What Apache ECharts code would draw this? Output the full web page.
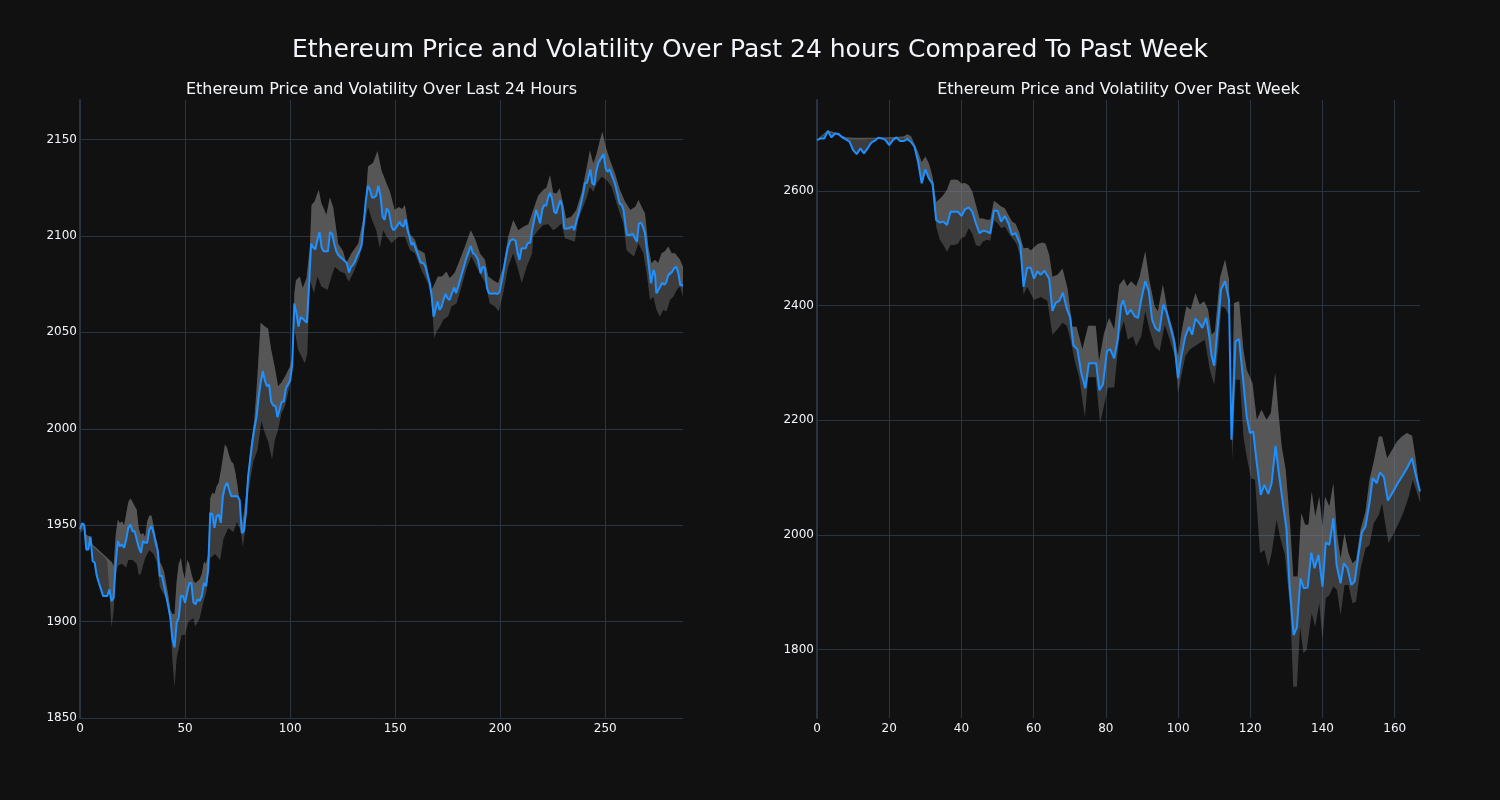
<!DOCTYPE html>
<html>
<head>
<meta charset="utf-8">
<script src="https://cdn.jsdelivr.net/npm/echarts@6/dist/echarts.min.js"></script>
<style>
html,body{margin:0;padding:0;background:#111111;}
#chart{width:1500px;height:800px;}
</style>
</head>
<body>
<div id="chart"></div>
<script>
// ---------- Data (x = index, y = ETH price in USD) ----------
const mainTitle = 'Ethereum Price and Volatility Over Past 24 hours Compared To Past Week';
const dayTitle = 'Ethereum Price and Volatility Over Last 24 Hours';
const weekTitle = 'Ethereum Price and Volatility Over Past Week';

// Last 24 hours (5-minute steps)
const dayPrice = [[0,1948],[1,1951],[2,1950],[3,1937.4],[4,1937.4],[5,1944],[6,1931.4],[7,1930.5],[8,1923.6],[9,1920],[10,1916.7],[11,1913.3],[12,1913.3],[13,1913.3],[14,1916.7],[15,1910.7],[16,1912.4],[17,1930.5],[18,1941.7],[19,1939],[20,1940],[21,1938.3],[22,1942.6],[23,1948.6],[24,1950.3],[25,1946.9],[26,1946.9],[27,1942.6],[28,1938.3],[29,1935.7],[30,1941.7],[31,1940.9],[32,1940.9],[33,1947.8],[34,1949.5],[35,1946],[36,1940.9],[37,1936.6],[38,1923.6],[39,1923.6],[40,1918.4],[41,1913.3],[42,1908.1],[43,1902],[44,1890.9],[45,1886.6],[46,1899.5],[47,1902],[48,1913.3],[49,1913.3],[50,1909.8],[51,1915],[52,1920],[53,1920],[54,1909.8],[55,1909],[56,1911.5],[57,1910.7],[58,1913.3],[59,1920],[60,1918.4],[61,1927],[62,1956.4],[63,1955.5],[64,1948.6],[65,1954.6],[66,1955.5],[67,1951.2],[68,1965],[69,1970],[70,1972],[71,1968.4],[72,1965],[73,1965],[74,1965],[75,1965],[76,1963],[77,1946],[78,1947],[79,1957],[80,1975],[81,1984],[82,1993],[83,2000],[84,2006],[85,2016],[86,2024],[87,2030],[88,2025],[89,2022],[90,2023],[91,2014],[92,2012],[93,2012],[94,2006],[95,2010],[96,2014],[97,2014],[98,2021],[99,2023],[100,2025],[101,2033],[102,2065],[103,2060],[104,2053],[105,2058],[106,2057],[107,2056],[108,2055],[109,2074],[110,2096],[111,2094],[112,2093],[113,2098],[114,2102],[115,2094],[116,2092],[117,2092],[118,2092],[119,2102],[120,2101],[121,2096],[122,2092],[123,2090],[124,2089],[125,2088],[126,2087],[127,2086],[128,2081],[129,2084],[130,2085],[131,2087],[132,2090],[133,2092],[134,2095],[135,2106],[136,2118],[137,2126],[138,2124],[139,2120],[140,2120],[141,2121],[142,2126],[143,2121],[144,2110],[145,2108.3],[146,2114.3],[147,2112.6],[148.3,2104.8],[149.2,2103],[150.2,2104],[151.1,2105],[152.1,2107.3],[153,2105.6],[154,2104.8],[154.9,2108.6],[155.9,2103],[156.8,2099.6],[157.8,2095.3],[158.7,2096.5],[159.7,2093.6],[160.9,2090.1],[162.2,2086.2],[163.5,2085.8],[164.4,2084.1],[165.4,2079.8],[166.5,2075.5],[167.3,2069.5],[168.3,2058.2],[169.2,2058.2],[170.2,2066],[171.1,2061.6],[172.1,2063.3],[173,2066.8],[174,2070],[174.9,2067.7],[175.9,2066.8],[177.1,2070.6],[178.1,2073.2],[179,2070.3],[180,2073.8],[181.6,2079.8],[183.2,2085.8],[184.1,2089.3],[185,2089],[186,2094.8],[187,2091],[188.2,2090.1],[189.4,2087.6],[190.7,2080.6],[191.7,2084.1],[192.7,2083.2],[193.7,2072.9],[194.6,2070.3],[195.9,2070],[197.5,2070.3],[198.7,2069.8],[199.7,2071],[201,2078],[202.2,2085.8],[203.5,2093.6],[204.8,2097.6],[206,2098.3],[207.3,2097.6],[208.3,2091],[209.2,2087.6],[210.2,2093.6],[211.1,2094.5],[212.1,2093.6],[213,2096.2],[214.3,2096.5],[215.2,2103],[216.2,2108.3],[217.1,2113.5],[218.1,2110],[219,2106.5],[220,2113.5],[220.9,2116.1],[221.9,2115.6],[222.9,2120.4],[223.8,2122.4],[224.8,2118.6],[225.7,2112.6],[226.7,2111.7],[227.6,2115.2],[228.6,2118.6],[229.5,2115.2],[230.5,2103.9],[231.4,2103],[232.4,2103.9],[233.3,2103],[234.3,2105],[235.2,2103],[236.2,2107.4],[237.5,2112.6],[238.7,2117.8],[239.7,2123],[240.3,2127.3],[241.3,2127.6],[242.2,2131.6],[242.9,2134.5],[243.8,2127.3],[244.8,2126.4],[245.7,2133.3],[246.7,2138],[247.6,2138],[248.6,2141.4],[249.2,2142.5],[250.2,2135],[251.1,2133.3],[252.1,2134.5],[253,2131.6],[254,2129],[254.9,2125.9],[255.9,2121.2],[256.8,2116.9],[257.8,2116.1],[258.7,2113.5],[259.7,2104.8],[260.3,2100.5],[261.3,2100.5],[262.2,2099.6],[263.2,2101],[264.1,2098.8],[265.1,2097],[266,2106.5],[267,2106.8],[267.9,2104.8],[268.9,2101.4],[269.8,2092.7],[270.8,2084.1],[271.7,2075.5],[272.4,2074.7],[273,2082.4],[273.7,2079.8],[274.3,2070.3],[275.2,2070],[276.2,2073.8],[277.1,2075.8],[278.1,2074.7],[279,2075.8],[280,2079.8],[280.9,2079],[281.9,2081.5],[282.8,2083.2],[283.8,2084.1],[284.8,2080.6],[285.7,2074.7],[287,2074.2]];

const dayUpper = [[0,1950],[2,1951],[3,1945],[5,1944],[6,1940],[8,1938],[10,1936],[12,1934],[14,1932],[15,1931],[16,1929],[17,1945],[18,1953],[19,1951],[20,1952],[21,1950],[22,1956],[23,1962],[24,1964],[25,1962],[26,1960],[27,1958],[28,1948],[29,1945],[30,1946],[31,1944],[32,1952],[33,1955],[34,1955],[35,1950],[36,1944],[37,1940],[38,1931],[39,1929],[40,1926],[41,1920],[42,1914],[43,1906],[44,1904],[45,1904],[46,1921],[47,1930],[48,1933],[49,1926],[50,1922],[51,1932],[52,1930],[53,1925],[54,1921],[55,1920],[56,1921],[57,1922],[58,1925],[59,1931],[60,1930],[61,1935],[62,1964],[63,1967],[64,1966],[65,1970],[66,1972],[67,1978],[68,1985],[69,1992],[70,1990],[71,1986],[72,1983],[73,1982],[74,1977],[75,1970],[76,1962],[77,1950],[78,1956],[79,1966],[81,1989],[83,2005],[84,2020],[86,2055],[88,2053],[89.5,2052],[91,2041],[92.7,2032],[94.3,2022],[95.9,2024],[97.5,2027],[99.8,2032],[101.4,2039],[102,2070],[102.8,2077],[104.6,2079],[106,2073],[107.8,2078],[109.4,2094],[110.2,2116],[111.7,2118],[113.6,2124],[114.9,2117],[117.3,2111],[118.9,2120],[120.5,2115],[122.9,2096],[125.2,2092],[126.8,2086],[129.2,2091],[132.4,2096],[135.6,2113],[137.1,2136],[139.5,2138],[141.6,2144],[143.5,2134],[146,2127],[147.5,2123],[149.8,2113.5],[151.7,2115],[153.3,2114],[154.6,2116],[157,2101],[159.4,2098],[160.9,2093],[164,2091],[165.6,2082],[167.3,2072],[168.9,2075.5],[170.3,2079],[172.3,2079],[174.4,2081.5],[176,2078],[178.4,2081],[180.8,2087.6],[183.2,2094.5],[186,2103],[188.2,2098],[190.3,2091],[192.7,2087.6],[194.3,2079],[196.7,2077],[199,2075.5],[201.4,2084],[203.8,2099.6],[206.2,2108.3],[208.6,2103],[211,2104.8],[213.4,2106],[215.7,2113.5],[218.1,2121],[220.5,2124],[222,2125],[223.7,2131.6],[225.2,2122.4],[226.8,2122],[228.3,2124.7],[229.9,2117],[231.4,2109],[233.8,2110],[236.2,2113.5],[238.7,2122.4],[241.1,2135],[242.7,2144.5],[244.3,2137.6],[245.9,2142.8],[247.5,2149.7],[248.6,2154],[250.2,2146.3],[252.2,2139.4],[254.6,2132.5],[257,2123.8],[259.4,2117.8],[261.9,2113.5],[264.3,2115.2],[265.8,2118.6],[267.3,2115.2],[268.9,2111.7],[270.5,2094.5],[272,2085.8],[273.7,2087.6],[275.2,2086],[276.8,2091],[278.4,2092],[280,2094.5],[281.6,2091],[283.2,2091],[285.6,2087.6],[287,2084]];

const dayLower = [[0,1946],[2,1948],[3,1936],[5,1942],[6,1939],[8,1937],[10,1935],[12,1933],[13,1931],[14,1915],[15,1897],[16,1905],[17,1924],[18,1929],[20,1930],[22,1928],[23,1932],[25,1932],[27,1930],[28,1924],[29,1925],[31,1933],[33,1937],[35,1935],[36.5,1931],[38,1918],[41,1912],[42.9,1900],[44,1880],[45,1866],[46,1881],[48.4,1893],[50,1893],[51.6,1900],[54,1901.7],[54.8,1897.5],[57,1901.7],[58.7,1910],[60.3,1916],[62,1933],[64.3,1935],[66.7,1932],[68.3,1943],[70.6,1948.5],[73,1946.5],[74.6,1951.7],[76.5,1947.5],[77.5,1939],[78.6,1947],[80.2,1968],[82.5,1983],[84.5,1989],[86.3,2004],[87.9,1998],[89.5,1993.5],[91.4,1984],[92.7,1994],[94.3,1999.5],[95.9,2008],[97.5,2011.6],[99.8,2022],[100.9,2029],[101.9,2053],[103.8,2041],[105.4,2037.5],[107,2034],[108.2,2039],[109.4,2077],[111.4,2070.3],[113,2079],[114.9,2073.8],[117.8,2072],[119.7,2079],[121.3,2084],[123.7,2081.5],[126,2080.6],[127.9,2076.3],[130,2080.6],[133.2,2089.3],[135.6,2106.5],[137.1,2115.2],[139,2108.3],[141,2103],[142.7,2093.6],[144.3,2103],[146,2099.6],[148.3,2096.2],[151.4,2099.6],[154.6,2099.6],[157,2092.7],[159.4,2091],[162.5,2082.4],[165.6,2075.5],[167.3,2066.8],[168.6,2046.9],[169.7,2050.4],[171.3,2053],[172.9,2056.5],[175.2,2058.2],[176.8,2063.4],[179.2,2065],[181.6,2073.8],[184,2083.2],[186.3,2089.3],[188.7,2084],[191.1,2079],[193,2075.5],[195,2065],[197.5,2063.4],[199.3,2060.8],[201.4,2070.3],[203.8,2084],[206.2,2091],[208.6,2082.4],[210.2,2075.5],[212.6,2084],[215.2,2091],[215.7,2099.6],[218.1,2103],[220.5,2105.7],[222.9,2106],[225.2,2103],[226.8,2104],[229.2,2106.5],[230.8,2098.8],[233.2,2097.9],[235.5,2097],[237.1,2108.3],[239.5,2115.2],[241.1,2119.5],[242.7,2125.5],[244.3,2122.9],[245.9,2127.3],[248.3,2130.7],[250.6,2129],[253,2125.5],[254.9,2118.6],[257,2111.7],[258.6,2106.5],[260.1,2092.7],[261.7,2091],[263.7,2089.3],[265.8,2096.2],[268.1,2091],[269.7,2080.6],[271.3,2066.8],[272.9,2068.5],[274.4,2061.6],[276,2058.2],[277.6,2061.6],[279.2,2061],[280.8,2066.8],[282.4,2068.5],[284,2072],[285.6,2073.8],[287,2068.5]];

// Past week (hourly steps)
const weekPrice = [[0,2688.8],[1,2691.7],[2,2691.7],[3,2704.5],[4,2693.5],[5,2700.4],[6,2699.3],[7,2693.5],[8,2690],[9,2686],[10,2671.4],[11,2664.4],[12,2674.3],[13,2665.6],[14,2674.3],[15,2684.2],[16,2687.7],[17,2692.9],[18,2691.7],[19,2688.8],[20,2680.1],[21,2688.8],[22,2693.5],[23,2687.1],[24,2687.1],[25,2690.6],[26,2686],[27,2677.2],[28,2651.1],[29,2613.4],[30,2637.7],[31,2622],[32,2613.4],[33,2549.5],[34,2544.8],[35,2546.6],[36,2540.8],[37,2564],[38,2564],[39,2564],[40,2556.5],[41,2568.1],[42,2571.6],[43,2564],[44,2543.7],[45,2526.3],[46,2530.9],[47,2529.2],[48,2526.3],[49,2565.7],[50,2565.7],[51,2546.6],[52,2556.5],[53,2543.7],[54,2523.4],[55,2526.3],[56.3,2507],[57.2,2433],[58.2,2466],[59.2,2466],[60.1,2447],[61,2459.6],[62,2454],[63,2461],[64.3,2447],[65.2,2391],[66.1,2405],[67.1,2408.4],[68.1,2422.5],[69.2,2394],[70.1,2380],[71,2331],[72.1,2324],[73.2,2282],[74.3,2256],[75.3,2299.6],[77.3,2299.6],[78.2,2252.6],[79.2,2262.5],[80.3,2320.7],[81.2,2324],[82.3,2308],[83.3,2341.8],[84.2,2400],[84.8,2409.3],[85.9,2384.3],[86.9,2393],[88,2381.4],[88.9,2378.5],[89.8,2410.5],[90.9,2442.5],[91.9,2425],[92.8,2375.5],[93.7,2361],[94.8,2355.2],[95.9,2401.7],[96.9,2387.2],[97.8,2363.9],[98.9,2337.7],[100,2273.7],[100.9,2311.5],[102,2346.4],[103,2362.7],[103.9,2349.3],[104.8,2377.3],[105.7,2370.9],[106.7,2361],[107.8,2378.5],[108.7,2343.5],[109.3,2311.5],[110,2295.2],[110.9,2358.1],[111.9,2428],[113,2442.5],[114.1,2410.5],[114.8,2166],[115.9,2337.7],[116.9,2341.8],[118.1,2264.9],[119,2206.7],[119.9,2177.6],[120.8,2180.5],[121.8,2125.2],[122.9,2069.9],[123.9,2087.3],[125,2071.6],[125.9,2090.2],[127,2155.5],[127.9,2107.7],[128.9,2061.1],[130,2011.6],[130.9,1909.8],[132,1825.3],[132.9,1838.7],[133.9,1924.3],[134.8,1906.8],[135.9,1908],[136.9,1969.1],[137.8,1941.8],[138.9,1965.1],[140,1909.8],[140.9,1986.6],[141.9,1982.5],[143,2029.1],[143.9,1947.6],[145,1915.6],[145.9,1950.5],[146.9,1941.8],[148,1912.7],[148.9,1918.5],[150,1967.9],[150.9,2004],[151.9,2014.6],[153,2055.3],[153.9,2099],[155,2090.2],[155.9,2108.9],[157,2100.7],[158.1,2059.9],[159.3,2072.8],[160.6,2087.3],[162,2101.9],[163.4,2116.4],[164.8,2133.9],[165.7,2107.7],[167,2075.7]];

const weekUpper = [[0,2690],[3,2706],[5,2702],[8,2694],[10,2693],[15,2693],[20,2694],[24,2695],[25,2699],[26,2696],[27,2682],[28,2668],[29,2650],[30,2660],[31,2648],[32,2625],[33,2581],[34,2586],[35,2593],[36,2602],[37,2619],[38,2620],[39,2619],[40,2613],[41,2614],[42,2610],[43,2599],[44,2576],[45,2552],[46,2552],[47,2550],[48,2550],[49,2583],[50,2578],[51,2573],[52,2570],[53,2558],[54,2547],[55,2543],[56,2528],[57.2,2500],[58.4,2501],[59.2,2496],[61,2507],[62.4,2510],[63.3,2508],[64.3,2489],[65.2,2450.5],[66.6,2454],[68,2464.6],[69.4,2429.5],[70.7,2363],[71.9,2363],[73.5,2324],[75.1,2365],[77.2,2365],[78.1,2303],[79.5,2352],[80.9,2379],[82.3,2359],[83.7,2436],[85,2446.6],[85.9,2433.8],[87,2442.5],[88.4,2433.8],[89.4,2451.2],[90.9,2494.9],[92.1,2442.5],[93.5,2398.8],[94.4,2390.1],[95.8,2436.7],[97.2,2387.2],[98.6,2358.1],[100,2311.5],[100.9,2352.3],[102.3,2398.8],[103.5,2393],[104.8,2422.1],[106,2401.7],[107.2,2407.6],[108.3,2393],[109.3,2349.3],[110.2,2355.2],[111.6,2448.3],[113,2480.4],[114.1,2445.4],[114.8,2168],[115.5,2404.7],[116.9,2407.6],[118.1,2323.1],[119,2288.2],[120.6,2265],[121.8,2200.9],[123.1,2218.3],[124.5,2200.9],[125.7,2212.5],[126.9,2282.4],[127.8,2212.5],[128.7,2154.3],[129.8,2113.5],[131,2020.4],[131.9,1927.2],[133.1,1927.2],[134.1,2037.9],[135.2,2017.5],[136.1,2017.5],[137,2075.7],[138,2032],[139.1,2067],[140,2014.6],[140.7,2067],[141.9,2049.5],[143,2090.2],[144,2002.9],[145,1959.2],[146.1,2002.9],[147.2,1968],[148.3,1950.5],[149.3,1956.3],[150.5,2008.7],[151.9,2040.8],[153,2096],[154.2,2128.1],[155.6,2171.8],[156.5,2171.8],[157.9,2133.9],[159.3,2148.5],[160.6,2163],[162,2171.8],[163.4,2177.6],[164.8,2173.1],[165.7,2136.8],[167,2072.8]];

const weekLower = [[0,2688],[3,2703],[5,2699],[8,2690],[10,2690],[11,2690],[13,2690],[15,2691],[20,2691],[24,2692],[26,2690],[27,2676],[28,2650],[29,2610],[30,2632],[31,2618],[32,2608],[33,2538],[34,2515],[35,2506],[36,2494],[37,2506],[38,2506],[39,2508],[40,2518],[41,2520],[42,2535],[43,2526],[44,2506],[45,2503],[46,2512],[47,2515],[48,2513],[49,2549],[50,2544],[51,2535],[52,2538],[53,2527],[55.3,2507],[56.4,2482],[57.2,2419],[58.2,2433],[60.1,2410],[62,2415],[63.8,2408],[65.2,2349],[66.6,2359],[68,2370],[69.2,2365],[70.3,2338],[71.4,2303],[72.6,2275],[74.2,2205],[75.1,2275],[77.2,2275],[78.4,2194],[79.5,2226],[80.6,2257],[82.3,2257],[83.8,2350],[85,2372.6],[86.1,2340.6],[87.5,2346.4],[88.4,2329],[89.8,2346.4],[90.9,2390.1],[92.1,2358.1],[93.5,2329],[94.9,2320.2],[96.3,2366.8],[97.7,2340.6],[99.1,2311.5],[100,2247.5],[100.9,2276.6],[102,2311.5],[103.2,2323.1],[104.6,2329],[106,2334.8],[107.4,2340.6],[108.8,2288.2],[110,2262],[111.1,2323.1],[112,2398.8],[113,2395.9],[114.1,2381.4],[115,2131],[115.9,2270.7],[117.1,2270.7],[118.1,2171.8],[119,2136.8],[120.2,2099],[121.3,2096],[122.7,1968],[123.9,1973.8],[125,1944.7],[125.9,1968],[127.3,2026.2],[128.2,1997.1],[129.6,1965.1],[131,1874.8],[131.9,1735.1],[132.9,1735.1],[133.8,1839.9],[134.7,1793.3],[135.6,1799.1],[137,1863.2],[138,1839.9],[139.1,1880.6],[140,1816.7],[140.9,1889.4],[141.9,1895.2],[143,1909.8],[144,1903.9],[145,1860.3],[146.1,1912.7],[147.2,1912.7],[148.3,1880.6],[149.3,1883.6],[150.5,1938.9],[151.9,1976.7],[153,1982.5],[154.2,2020.4],[155.6,2034.9],[156.5,2055.3],[157.2,2026.2],[158.3,1985.4],[159.7,2002.9],[161.1,2020.4],[162.5,2040.8],[163.9,2067],[165,2096],[166.2,2072.8],[167.1,2055.3]];

// ---------- Styling ----------
const FONT = 'DejaVu Sans';
const TXT = '#f2f5fa';
const GRID = '#283442';
const BAND = 'rgba(128,128,128,0.39)';
const LINE = '#1E90FF';
const plain = v => String(v);

// polygon between two polylines, drawn through the axis scales
function fillBetween(top, bottom, axisIdx, anchor) {
  return {
    type: 'custom',
    xAxisIndex: axisIdx, yAxisIndex: axisIdx,
    silent: true, animation: false, z: 1,
    data: [anchor],
    renderItem: function (params, api) {
      const pts = top.map(p => api.coord(p))
        .concat(bottom.slice().reverse().map(p => api.coord(p)));
      return { type: 'polygon', shape: { points: pts }, style: { fill: BAND } };
    }
  };
}

function xAxisCfg(idx, max, interval) {
  return {
    type: 'value', gridIndex: idx, min: 0, max: max, interval: interval,
    axisLine: { show: false }, axisTick: { show: false },
    axisLabel: { color: TXT, fontFamily: FONT, fontSize: 12, margin: 5, showMaxLabel: false, formatter: plain },
    splitLine: { show: true, showMinLine: false, showMaxLine: false, lineStyle: { color: GRID, width: 1 } }
  };
}

const chart = echarts.init(document.getElementById('chart'), null, { renderer: 'canvas' });
chart.setOption({
  backgroundColor: '#111111',
  animation: false,
  title: [
    { text: mainTitle, left: 'center', top: 38, padding: 0, textStyle: { color: TXT, fontFamily: FONT, fontSize: 25, fontWeight: 'normal' } },
    { text: dayTitle, left: 381.5, textAlign: 'center', top: 82, padding: 0, textStyle: { color: TXT, fontFamily: FONT, fontSize: 16, fontWeight: 'normal' } },
    { text: weekTitle, left: 1118.5, textAlign: 'center', top: 82, padding: 0, textStyle: { color: TXT, fontFamily: FONT, fontSize: 16, fontWeight: 'normal' } }
  ],
  grid: [
    { left: 80, right: 817, top: 100, bottom: 82 },
    { left: 817, right: 80, top: 100, bottom: 82 }
  ],
  xAxis: [ xAxisCfg(0, 287, 50), xAxisCfg(1, 167, 20) ],
  yAxis: [
    {
      type: 'value', gridIndex: 0, min: 1850, max: 2170.5, interval: 50,
      axisLine: { show: true, lineStyle: { color: GRID, width: 2 } }, axisTick: { show: false },
      axisLabel: { color: TXT, fontFamily: FONT, fontSize: 12, margin: 3, showMaxLabel: false, formatter: plain },
      splitLine: { show: true, showMaxLine: false, lineStyle: { color: GRID, width: 1 } }
    },
    {
      type: 'value', gridIndex: 1, min: 1680.5, max: 2758.8, splitNumber: 5, minInterval: 200, maxInterval: 200,
      axisLine: { show: true, lineStyle: { color: GRID, width: 2 } }, axisTick: { show: false },
      axisLabel: { color: TXT, fontFamily: FONT, fontSize: 12, margin: 3, showMinLabel: false, showMaxLabel: false, formatter: plain },
      splitLine: { show: true, showMinLine: false, showMaxLine: false, lineStyle: { color: GRID, width: 1 } }
    }
  ],
  series: [
    fillBetween(dayUpper, dayPrice, 0, [0, 1900]),
    fillBetween(dayUpper, dayLower, 0, [0, 1900]),
    { type: 'line', xAxisIndex: 0, yAxisIndex: 0, data: dayPrice, showSymbol: false, z: 3,
      lineStyle: { color: LINE, width: 2 }, silent: true },
    fillBetween(weekUpper, weekPrice, 1, [0, 2000]),
    fillBetween(weekUpper, weekLower, 1, [0, 2000]),
    { type: 'line', xAxisIndex: 1, yAxisIndex: 1, data: weekPrice, showSymbol: false, z: 3,
      lineStyle: { color: LINE, width: 2 }, silent: true }
  ]
});
</script>
</body>
</html>
